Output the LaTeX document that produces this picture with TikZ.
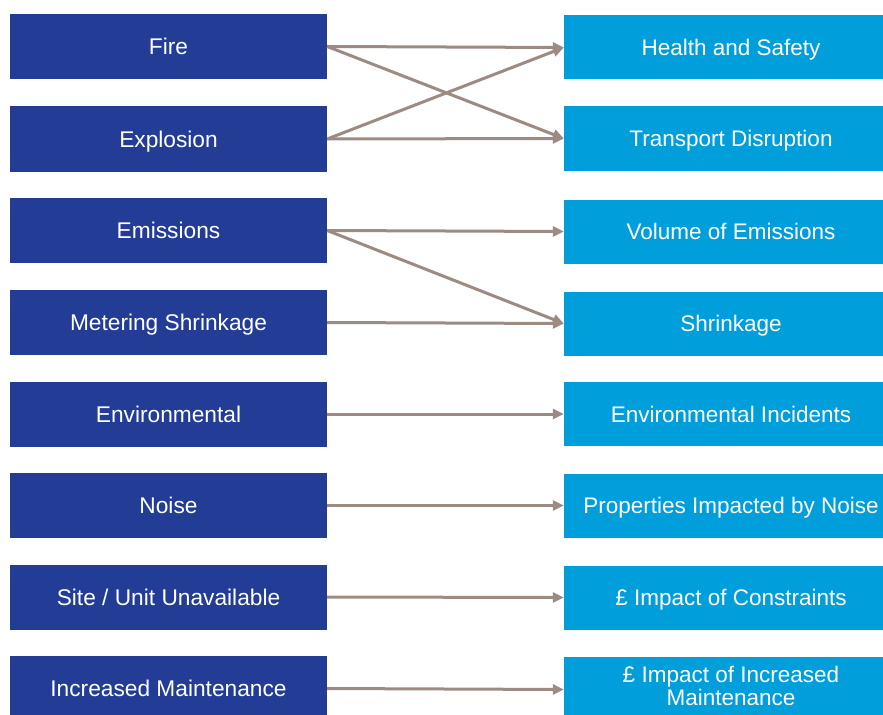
\documentclass[tikz,border=0pt]{standalone}
\usepackage{fontspec}
\setmainfont{Liberation Sans}
\usetikzlibrary{arrows.meta}
\definecolor{darkbox}{HTML}{233D97}
\definecolor{lightbox}{HTML}{009EDB}
\definecolor{arrowc}{HTML}{9C8B83}
\tikzset{
  effectbase/.style={rectangle, fill=lightbox, text=white, minimum width=334bp, minimum height=64bp, inner sep=0pt, align=center, font=\fontsize{22.6}{24}\selectfont},
  causebox/.style={rectangle, fill=darkbox, text=white, minimum width=317bp, minimum height=65bp, inner sep=0pt, align=center, font=\fontsize{22.8}{24}\selectfont, text height=16.3bp, text depth=0pt},
  effectbox/.style={effectbase, text height=16.2bp, text depth=0pt},
  link/.style={draw=arrowc, line width=3bp, -{Triangle[length=11bp,width=10bp]}}
}
\begin{document}
\begin{tikzpicture}[x=1bp,y=-1bp]
\useasboundingbox (0,0) rectangle (883,715);
\clip (0,0) rectangle (883,715);
\fill[white] (0,0) rectangle (883,715);
% causes
\node[causebox] (c1) at (168.5,46.5) {Fire};
\node[causebox] (c2) at (168.5,139) {Explosion};
\node[causebox] (c3) at (168.5,230.5) {Emissions};
\node[causebox] (c4) at (168.5,322.5) {Metering Shrinkage};
\node[causebox] (c5) at (168.5,414) {Environmental};
\node[causebox] (c6) at (168.5,505.5) {Noise};
\node[causebox] (c7) at (168.5,597) {Site / Unit Unavailable};
\node[causebox] (c8) at (168.5,688.5) {Increased Maintenance};
% effects
\node[effectbox] (e1) at (731,47.5) {Health and Safety};
\node[effectbox] (e2) at (731,138.5) {Transport Disruption};
\node[effectbox] (e3) at (731,231.5) {Volume of Emissions};
\node[effectbox] (e4) at (731,323.5) {Shrinkage};
\node[effectbox] (e5) at (731,414) {Environmental Incidents};
\node[effectbox] (e6) at (731,505.5) {Properties Impacted by Noise};
\node[effectbox] (e7) at (731,597.5) {\pounds{} Impact of Constraints};
\node[effectbase, minimum height=65bp] (e8) at (731,689.5) {\raisebox{3bp}{\begin{tabular}{@{}c@{}}\pounds{} Impact of Increased\\[-1bp]Maintenance\end{tabular}}};
% links
\draw[link] (c1.east) -- (e1.west);
\draw[link] (c1.east) -- (e2.west);
\draw[link] (c2.east) -- (e1.west);
\draw[link] (c2.east) -- (e2.west);
\draw[link] (c3.east) -- (e3.west);
\draw[link] (c3.east) -- (e4.west);
\draw[link] (c4.east) -- (e4.west);
\draw[link] (c5.east) -- (e5.west);
\draw[link] (c6.east) -- (e6.west);
\draw[link] (c7.east) -- (e7.west);
\draw[link] (c8.east) -- (e8.west);
\end{tikzpicture}
\end{document}
